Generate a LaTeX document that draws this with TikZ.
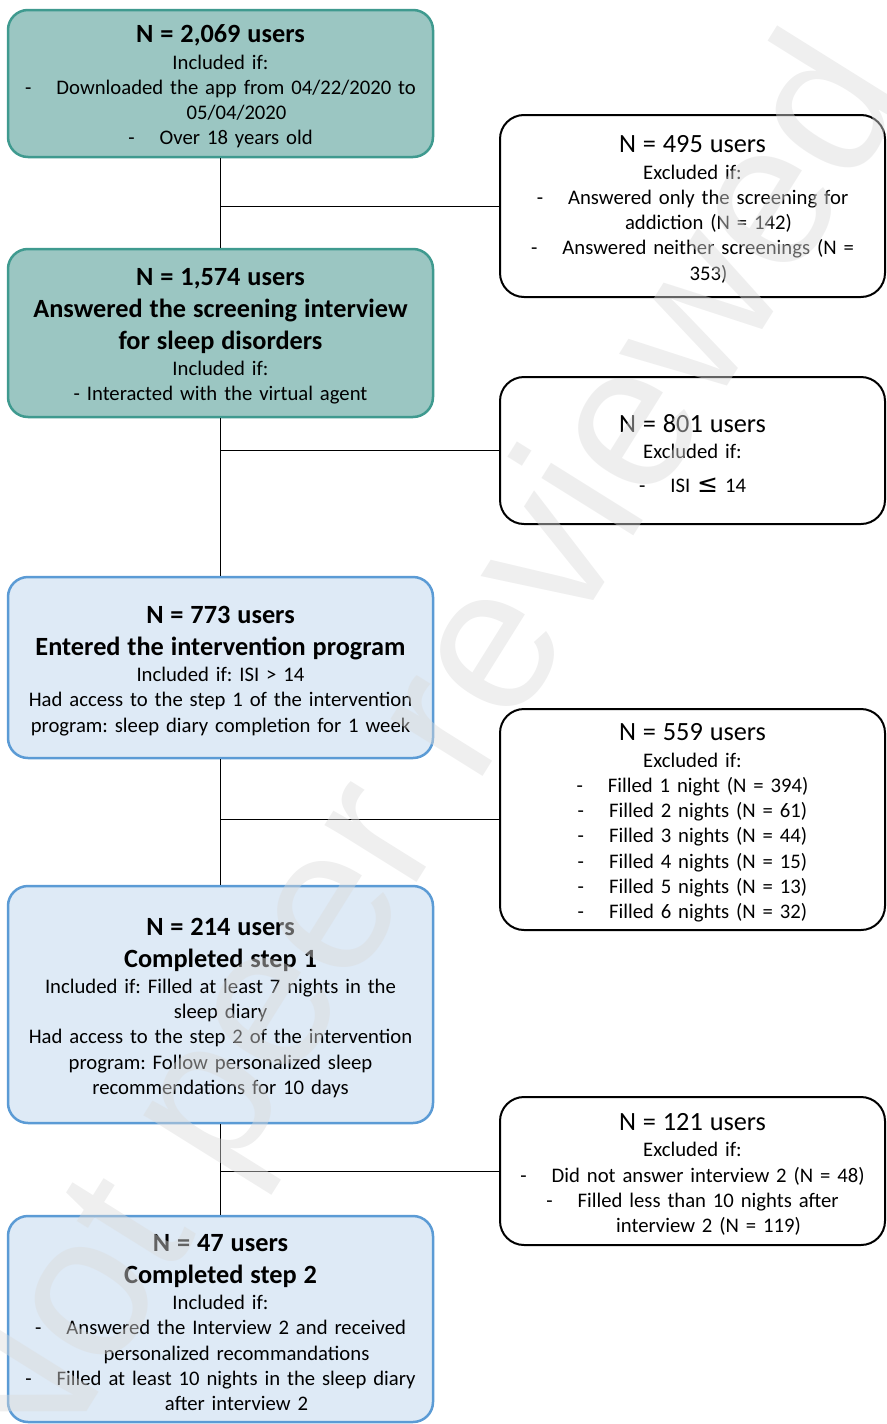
\documentclass[tikz,border=0pt]{standalone}
\usepackage{fontspec}
\setmainfont{Carlito}
\newfontfamily\wmfont{Liberation Sans}
\newfontfamily\symfont{DejaVu Sans}
\usetikzlibrary{positioning}
\frenchspacing
\definecolor{tealfill}{HTML}{9BC6C2}
\definecolor{tealline}{HTML}{3F9A8F}
\definecolor{bluefill}{HTML}{DEEAF6}
\definecolor{blueline}{HTML}{5B9BD5}
\definecolor{wmgray}{gray}{0.86}
\newcommand{\bodyfont}{\fontsize{20.7}{25.25}\selectfont}
\newcommand{\hd}[1]{{\fontsize{26.3}{32}\selectfont\bfseries\rule{0pt}{24pt}#1\par}\vspace{1pt}}
\newcommand{\xhd}[1]{{\fontsize{26.3}{32}\selectfont\rule{0pt}{24pt}#1\par}\vspace{1pt}}
\newcommand{\li}{-\hspace{25pt}}
\newcommand{\cont}{\hspace*{32pt}}
\tikzset{
    flowbox/.style={rounded corners=20pt, minimum width=425pt, text width=415pt,
        align=center, inner sep=0pt, font=\bodyfont},
    screenbox/.style={flowbox, draw=tealline, fill=tealfill, line width=2.5pt},
    stepbox/.style={flowbox, draw=blueline, fill=bluefill, line width=2.5pt},
    exclbox/.style={rounded corners=24pt, minimum width=385pt, text width=375pt,
        align=center, inner sep=0pt, draw=black, fill=white, line width=2pt,
        font=\bodyfont}
}
\begin{document}
\begin{tikzpicture}[x=1pt,y=-1pt]
    \useasboundingbox (0,0) rectangle (886,1424);
    \node[screenbox, minimum height=147pt] at (220.5,83.5) (all) {\hd{N = 2,069 users}
        Included if:\\ \li Downloaded the app from 04/22/2020 to\\ \cont 05/04/2020\\ \li Over 18 years old};
    \node[exclbox, minimum height=182pt] at (692.5,206) (noanswer) {\xhd{N = 495 users}
        Excluded if:\\ \li Answered only the screening for\\ \cont addiction (N = 142)\\
        \li Answered neither screenings (N =\\ \cont 353)};
    \node[screenbox, minimum height=168pt] at (220.5,333) (screened) {\hd{N = 1,574 users\\Answered the screening interview\\for sleep disorders}
        Included if:\\ - Interacted with the virtual agent};
    \node[exclbox, minimum height=147pt] at (692.5,450.5) (lowisi) {\xhd{N = 801 users}
        Excluded if:\\[8pt] \li ISI {\symfont\fontsize{25}{25.25}\selectfont ≤} 14};
    \node[stepbox, minimum height=181pt] at (220.5,667.5) (entered) {\hd{N = 773 users\\Entered the intervention program}
        Included if: ISI > 14\\ Had access to the step 1 of the intervention\\ program: sleep diary completion for 1 week};
    \node[exclbox, minimum height=221pt] at (692.5,819.5) (fewnights) {\xhd{N = 559 users}
        Excluded if:\\ \li Filled 1 night (N = 394)\\ \li Filled 2 nights (N = 61)\\ \li Filled 3 nights (N = 44)\\
        \li Filled 4 nights (N = 15)\\ \li Filled 5 nights (N = 13)\\ \li Filled 6 nights (N = 32)};
    \node[stepbox, minimum height=237pt] at (220.5,1004.5) (stepone) {\hd{N = 214 users\\Completed step 1}
        Included if: Filled at least 7 nights in the\\ sleep diary\\ Had access to the step 2 of the intervention\\
        program: Follow personalized sleep\\ recommendations for 10 days};
    \node[exclbox, minimum height=148pt] at (692.5,1171) (nointerview) {\xhd{N = 121 users}
        Excluded if:\\ \li Did not answer interview 2 (N = 48)\\ \li Filled less than 10 nights after\\ \cont interview 2 (N = 119)};
    \node[stepbox, minimum height=206pt] at (220.5,1319) (steptwo) {\hd{N = 47 users\\Completed step 2}
        Included if:\\ \li Answered the Interview 2 and received\\ \cont personalized recommandations\\
        \li Filled at least 10 nights in the sleep diary\\ \cont after interview 2};
    \path[draw, line width=1pt]
    (all) edge (screened)
    (screened) edge (entered)
    (entered) edge (stepone)
    (stepone) edge (steptwo)
    (noanswer) edge (noanswer.west -| all.south)
    (lowisi) edge (lowisi.west -| all.south)
    (fewnights) edge (fewnights.west -| all.south)
    (nointerview) edge (nointerview.west -| all.south)
    ;
    % watermark
    \node[rotate=58, text=wmgray, opacity=0.45, font={\wmfont\fontsize{205}{240}\selectfont}] at (425,770) (stamp) {Not peer reviewed};
\end{tikzpicture}
\end{document}
